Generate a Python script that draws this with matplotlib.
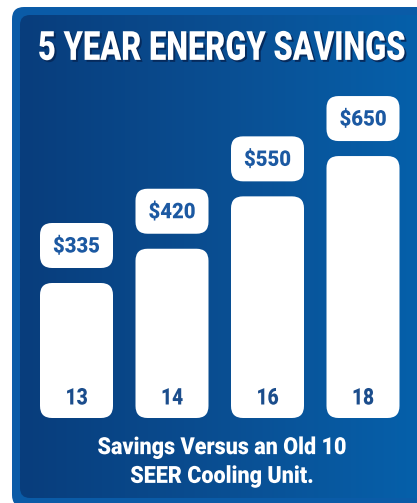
import numpy as np
import matplotlib
matplotlib.use("Agg")
import matplotlib.pyplot as plt
from matplotlib.patches import FancyBboxPatch
from matplotlib.colors import LinearSegmentedColormap, to_rgba
from matplotlib.transforms import Affine2D
import matplotlib.patheffects as pe

# ---- data ----
categories = ["13", "14", "16", "18"]
savings = [335, 420, 550, 650]
value_labels = ["$335", "$420", "$550", "$650"]
title = "5 YEAR ENERGY SAVINGS"
footnote = "Savings Versus an Old 10\nSEER Cooling Unit."

W, H = 417, 503
fig = plt.figure(figsize=(W / 100, H / 100), dpi=100)
fig.patch.set_facecolor("white")
FONT = ["Roboto", "DejaVu Sans"]


class Condense(pe.AbstractPathEffect):
    """Rescale glyph paths about a display-space centre (condensed lettering)."""
    def __init__(self, sx=1.0, sy=1.0, cx=0.0, cy=0.0, offset=(0, 0), color=None):
        super().__init__(offset=(0, 0))
        self.sx, self.sy, self.cx, self.cy, self.off = sx, sy, cx, cy, offset
        self.color = None if color is None else to_rgba(color)

    def draw_path(self, renderer, gc, tpath, affine, rgbFace=None):
        ox = renderer.points_to_pixels(self.off[0])
        oy = renderer.points_to_pixels(self.off[1])
        t = affine + Affine2D().translate(-self.cx, -self.cy).scale(self.sx, self.sy) \
            .translate(self.cx + ox, self.cy + oy)
        face = rgbFace if self.color is None else self.color
        renderer.draw_path(gc, tpath, t, face)


def condense(txt, target_w, sy=1.0, shadow=None):
    r = fig.canvas.get_renderer()
    bb = txt.get_window_extent(r)
    sx = target_w / bb.width
    cx = (bb.x0 + bb.x1) / 2
    cy = (bb.y0 + bb.y1) / 2
    effs = []
    if shadow is not None:
        effs.append(Condense(sx, sy, cx, cy, offset=(1.4, -1.4), color=shadow))
    effs.append(Condense(sx, sy, cx, cy))
    txt.set_path_effects(effs)


# ---- background panel (pixel coordinates, y down) ----
bg = fig.add_axes([0, 0, 1, 1])
bg.set_xlim(0, W)
bg.set_ylim(H, 0)
bg.axis("off")

outer = FancyBboxPatch((12, 7), 430, 500, boxstyle="round,pad=0,rounding_size=12",
                       facecolor="#0a5ba7", edgecolor="none")
bg.add_patch(outer)
inner = FancyBboxPatch((20, 15), 420, 483, boxstyle="round,pad=0,rounding_size=10",
                       facecolor="none", edgecolor="none")
bg.add_patch(inner)
grad = np.linspace(0, 1, 256)[None, :]
cmap = LinearSegmentedColormap.from_list("g", ["#083d7c", "#0a4f93", "#0562ad"])
im = bg.imshow(grad, extent=(20, 440, 498, 15), cmap=cmap, aspect="auto", zorder=1)
im.set_clip_path(inner)

TITLE_FS = 20
t_title = bg.text(221.5, 49, title, fontsize=TITLE_FS, fontweight="heavy", color="white",
                  family=FONT, ha="center", va="center", zorder=5)
t_foot = bg.text(222, 462, footnote, fontsize=17, fontweight="heavy", color="white", family=FONT,
                 ha="center", va="center", linespacing=1.32, zorder=5)

# ---- bar chart axes ----
px_per_cat = 95.5
px_per_val = 0.403
left_px = 76.5 - 0.5 * px_per_cat
base_px = 418
ymax = 1000
ax = fig.add_axes([left_px / W, (H - base_px) / H, 4 * px_per_cat / W, ymax * px_per_val / H])
ax.set_xlim(-0.5, 3.5)
ax.set_ylim(0, ymax)
ax.axis("off")
ax.patch.set_alpha(0)

bar_w = 73 / px_per_cat
aspect = (1 / px_per_val) / (1 / px_per_cat)
r = 12 / px_per_cat
gap = 15 / px_per_val
lab_h = 45 / px_per_val

val_texts, cat_texts = [], []
for i, (cat, v, lab) in enumerate(zip(categories, savings, value_labels)):
    x0 = i - bar_w / 2
    ax.add_patch(FancyBboxPatch((x0, 0), bar_w, v, boxstyle=f"round,pad=0,rounding_size={r}",
                                mutation_aspect=aspect, facecolor="white", edgecolor="none"))
    ax.add_patch(FancyBboxPatch((x0, v + gap), bar_w, lab_h, boxstyle=f"round,pad=0,rounding_size={r}",
                                mutation_aspect=aspect, facecolor="white", edgecolor="none"))
    val_texts.append(ax.text(i, v + gap + lab_h / 2 - 1 / px_per_val, lab, fontsize=15.5,
                             fontweight="heavy", color="#1c59a2", family=FONT,
                             ha="center", va="center"))
    cat_texts.append(ax.text(i, 20 / px_per_val, cat, fontsize=16.5, fontweight="heavy",
                             color="#1b4d8c", family=FONT, ha="center", va="center"))

fig.canvas.draw()
condense(t_title, 367, sy=29.0 / TITLE_FS, shadow="#062a5c")
condense(t_foot, 249)
for t in val_texts:
    condense(t, 47)
for t in cat_texts:
    condense(t, 22)

fig.savefig("out.png", dpi=100)
